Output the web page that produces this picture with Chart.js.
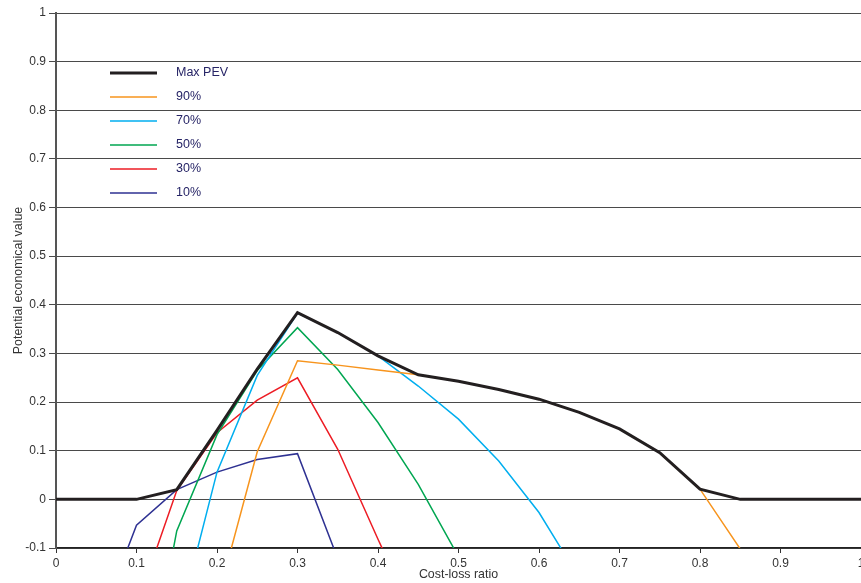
<!DOCTYPE html>
<html>
<head>
<meta charset="utf-8">
<title>Potential economical value</title>
<script src="https://cdn.jsdelivr.net/npm/chart.js@4/dist/chart.umd.min.js"></script>
<style>
  html, body { margin: 0; padding: 0; background: #ffffff; }
  #wrap { width: 861px; height: 583px; }
</style>
</head>
<body>
<div id="wrap"><canvas id="pev" width="861" height="583"></canvas></div>
<script>
// Cost-loss ratios at which the economical value was evaluated
const costLossRatios = [0, 0.05, 0.1, 0.15, 0.2, 0.25, 0.3, 0.35, 0.4, 0.45, 0.5,
                        0.55, 0.6, 0.65, 0.7, 0.75, 0.8, 0.85, 0.9, 0.95, 1.0];

// Potential economical value per probability threshold (null = not evaluated)
const maxPEV = [0, 0, 0, 0.02, 0.142, 0.268, 0.384, 0.343, 0.295, 0.256, 0.243,
                0.226, 0.206, 0.179, 0.145, 0.096, 0.021, 0, 0, 0, 0];
const pev90  = [null, null, null, null, -0.21, 0.098, 0.285, 0.276, 0.266, 0.256, 0.243,
                0.226, 0.206, 0.179, 0.145, 0.096, 0.021, -0.102, null, null, null];
const pev70  = [null, null, null, -0.269, 0.056, 0.255, 0.383, 0.343, 0.295, 0.233, 0.165,
                0.079, -0.027, -0.162, null, null, null, null, null, null, null];
const pev50  = [null, null, -0.5, -0.065, 0.133, 0.265, 0.353, 0.267, 0.158, 0.031, -0.118,
                null, null, null, null, null, null, null, null, null, null];
const pev30  = [null, null, -0.22, 0.018, 0.137, 0.204, 0.25, 0.103, -0.082, -0.26, null,
                null, null, null, null, null, null, null, null, null, null];
const pev10  = [null, -0.27, -0.053, 0.02, 0.056, 0.082, 0.094, -0.122, null, null, null,
                null, null, null, null, null, null, null, null, null, null];

const seriesLabels = ['Max PEV', '90%', '70%', '50%', '30%', '10%'];
const seriesValues = [maxPEV, pev90, pev70, pev50, pev30, pev10];
const seriesColors = ['#231f20', '#f7941d', '#00aeef', '#00a651', '#ed1c24', '#2e3192'];
const seriesWidths = [3, 1.5, 1.5, 1.5, 1.5, 1.5];

function toPoints(values) {
  return costLossRatios.map((x, i) => ({ x: x, y: values[i] }));
}

function fmtTick(v) {
  const r = Math.round(v * 10) / 10;
  return r === 0 ? '0' : String(r);
}

// In-plot legend: short line samples with labels, stacked on the left
const insetLegend = {
  id: 'insetLegend',
  afterDatasetsDraw(chart) {
    const ctx = chart.ctx;
    ctx.save();
    ctx.font = "12.5px 'Liberation Sans', Arial, sans-serif";
    ctx.textBaseline = 'middle';
    ctx.textAlign = 'left';
    chart.data.datasets.forEach((ds, i) => {
      const y = 73 + 24 * i;
      ctx.beginPath();
      ctx.strokeStyle = ds.borderColor;
      ctx.lineWidth = ds.borderWidth;
      ctx.moveTo(110, y);
      ctx.lineTo(157, y);
      ctx.stroke();
      ctx.fillStyle = '#262466';
      ctx.fillText(ds.label, 176, y);
    });
    ctx.restore();
  }
};

Chart.defaults.font.family = "'Liberation Sans', Arial, sans-serif";
Chart.defaults.color = '#333333';

new Chart(document.getElementById('pev'), {
  type: 'line',
  data: {
    datasets: seriesLabels.map((label, i) => ({
      label: label,
      data: toPoints(seriesValues[i]),
      borderColor: seriesColors[i],
      backgroundColor: seriesColors[i],
      borderWidth: seriesWidths[i],
      pointRadius: 0,
      tension: 0,
      spanGaps: false,
      fill: false
    }))
  },
  options: {
    responsive: false,
    animation: false,
    devicePixelRatio: 1,
    layout: { padding: { top: 13, right: 0, bottom: 0, left: 0 } },
    plugins: {
      legend: { display: false },
      tooltip: { enabled: false }
    },
    scales: {
      x: {
        type: 'linear',
        min: 0,
        max: 1,
        ticks: {
          stepSize: 0.1,
          padding: 3,
          font: { size: 12 },
          color: '#333333',
          maxRotation: 0,
          callback: fmtTick
        },
        grid: {
          drawOnChartArea: false,
          drawTicks: true,
          tickLength: 5,
          color: '#333333',
          lineWidth: 1
        },
        border: { display: true, color: '#222222', width: 1.5 },
        title: {
          display: true,
          text: 'Cost-loss ratio',
          font: { size: 12.4 },
          color: '#333333',
          padding: { top: 0, bottom: 1 }
        },
        afterFit(scale) {
          scale.height = 35;
          scale.paddingLeft = 0;
          scale.paddingRight = 0;
        }
      },
      y: {
        min: -0.1,
        max: 1,
        ticks: {
          stepSize: 0.1,
          padding: 3,
          font: { size: 12 },
          color: '#333333',
          callback: fmtTick
        },
        grid: {
          drawOnChartArea: true,
          drawTicks: true,
          tickLength: 7,
          color: '#4a4a4a',
          lineWidth: 1
        },
        border: { display: true, color: '#555555', width: 2 },
        title: {
          display: true,
          text: 'Potential economical value',
          font: { size: 12.4 },
          color: '#333333',
          padding: { top: 11, bottom: 0 }
        },
        afterFit(scale) {
          scale.width = 56;
          scale.paddingTop = 0;
          scale.paddingBottom = 0;
        }
      }
    }
  },
  plugins: [insetLegend]
});
</script>
</body>
</html>
